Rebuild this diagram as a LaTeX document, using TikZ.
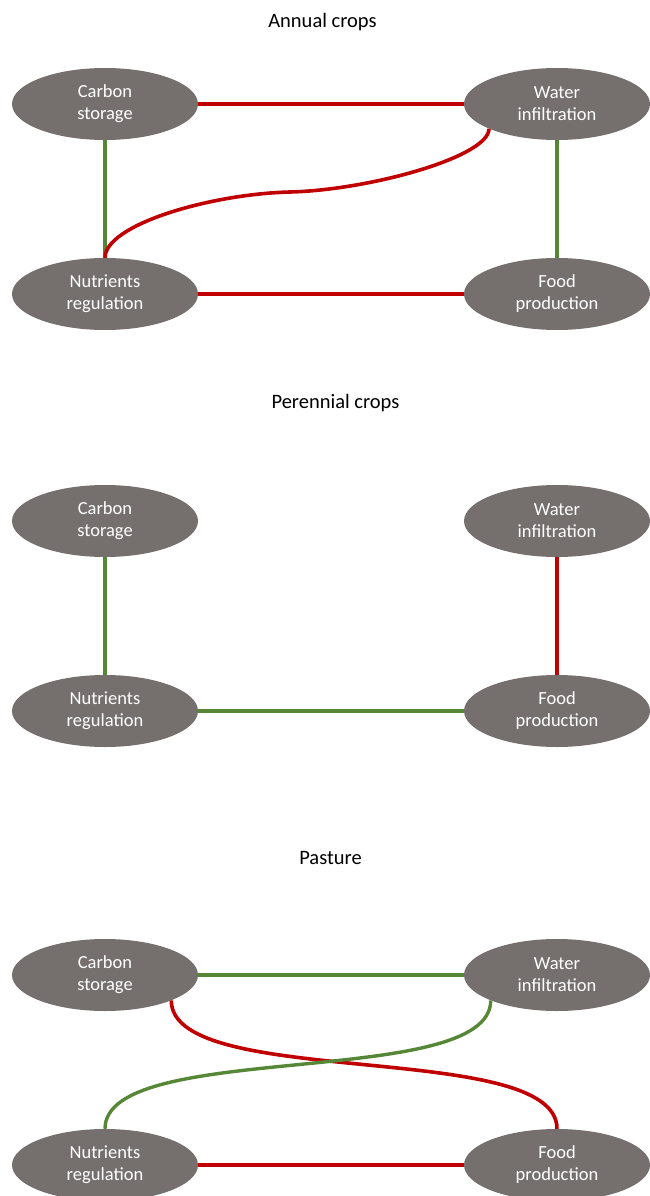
\documentclass[tikz,border=0pt]{standalone}
\usepackage{fontspec}
\setmainfont{Carlito}
\usetikzlibrary{shapes.geometric}
\definecolor{ellgray}{RGB}{117,111,110}
\definecolor{tradered}{RGB}{192,0,0}
\definecolor{syngreen}{RGB}{86,135,55}
\begin{document}
\begin{tikzpicture}[x=1pt,y=1pt,
		service/.style={ellipse,fill=ellgray,text=white,minimum width=186pt,minimum height=72pt,inner sep=0pt,align=center,font=\fontsize{18.5}{22}\selectfont},
		heading/.style={font=\fontsize{20.5}{24}\selectfont},
		trade/.style={tradered,line width=3.6pt},
		syn/.style={syngreen,line width=3.4pt}]
				\useasboundingbox (0,0) rectangle (650,-1196);
				% annual crops
				\node[heading] (annual) at (322.5,-22) {Annual crops};
				\node[service] (carbonA) at (105,-104) {Carbon\\storage};
				\node[service] (waterA) at (557,-104) {Water\\infiltration};
				\node[service] (nutrA) at (105,-294) {Nutrients\\regulation};
				\node[service] (foodA) at (557,-294) {Food\\production};
				\coordinate (bendA) at (290,-192);
				\draw[trade] (carbonA.east) -- (waterA.west);
				\draw[trade] (nutrA.east) -- (foodA.west);
				\draw[syn] (carbonA.south) -- (nutrA.north);
				\draw[syn] (waterA.south) -- (foodA.north);
				\draw[trade] (waterA.200) .. controls +(0,-28) and +(80,2) .. (bendA)
					.. controls +(-80,-2) and +(0,33) .. (nutrA.north);
				% perennial crops
				\node[heading] (perennial) at (335.5,-403) {Perennial crops};
				\node[service] (carbonP) at (105,-521) {Carbon\\storage};
				\node[service] (waterP) at (557,-521) {Water\\infiltration};
				\node[service] (nutrP) at (105,-711) {Nutrients\\regulation};
				\node[service] (foodP) at (557,-711) {Food\\production};
				\draw[syn] (carbonP.south) -- (nutrP.north);
				\draw[trade] (waterP.south) -- (foodP.north);
				\draw[syn] (nutrP.east) -- (foodP.west);
				% pasture
				\node[heading] (pasture) at (330.5,-858) {Pasture};
				\node[service] (carbonS) at (105,-975) {Carbon\\storage};
				\node[service] (waterS) at (557,-975) {Water\\infiltration};
				\node[service] (nutrS) at (105,-1165) {Nutrients\\regulation};
				\node[service] (foodS) at (557,-1165) {Food\\production};
				\draw[syn] (carbonS.east) -- (waterS.west);
				\draw[trade] (nutrS.east) -- (foodS.west);
				\draw[trade] (carbonS.339) .. controls +(0,-90) and +(0,90) .. (foodS.north);
				\draw[syn] (waterS.201) .. controls +(0,-90) and +(0,90) .. (nutrS.north);
			\end{tikzpicture}
\end{document}
